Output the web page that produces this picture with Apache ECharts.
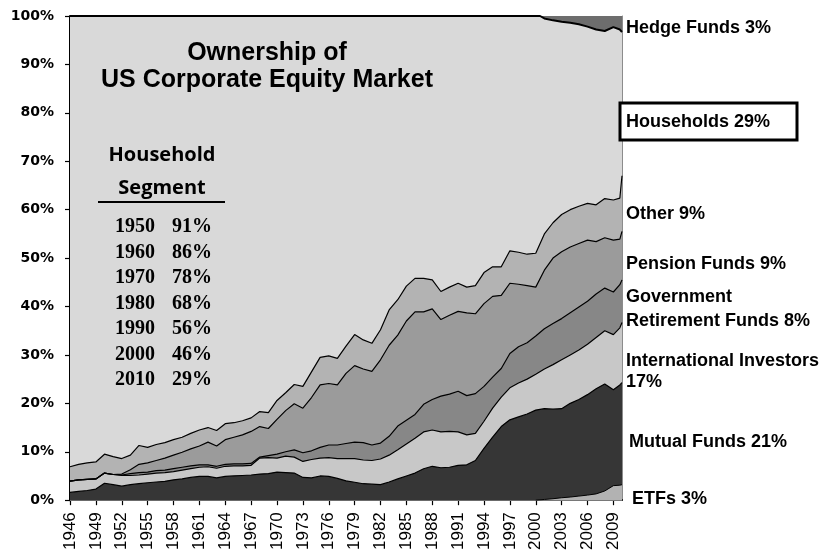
<!DOCTYPE html>
<html>
<head>
<meta charset="utf-8">
<title>Ownership of US Corporate Equity Market</title>
<script src="https://cdn.jsdelivr.net/npm/echarts@6/dist/echarts.min.js"></script>
<style>
  html, body { margin: 0; padding: 0; background: #fff; }
  #chart { width: 835px; height: 553px; }
</style>
</head>
<body>
<div id="chart"></div>
<script>
// shares, cumulative from the bottom (% of the market)
const BASE_YEAR = 1946;
const years = [
  1946, 1947, 1948, 1949, 1950, 1951, 1952, 1953, 1954, 1955,
  1956, 1957, 1958, 1959, 1960, 1961, 1962, 1963, 1964, 1965,
  1966, 1967, 1968, 1969, 1970, 1971, 1972, 1973, 1974, 1975,
  1976, 1977, 1978, 1979, 1980, 1981, 1982, 1983, 1984, 1985,
  1986, 1987, 1988, 1989, 1990, 1991, 1992, 1993, 1994, 1995,
  1996, 1997, 1998, 1999, 2000, 2001, 2002, 2003, 2004, 2005,
  2006, 2007, 2008, 2009, 2009.75, 2010
];
const mutualTop = [
  1.6, 1.8, 2.0, 2.3, 3.5, 3.2, 2.9, 3.2, 3.4, 3.6,
  3.75, 3.9, 4.2, 4.4, 4.7, 4.9, 4.9, 4.6, 4.9, 5.0,
  5.1, 5.2, 5.4, 5.5, 5.8, 5.7, 5.6, 4.7, 4.6, 5.0,
  4.9, 4.5, 4.0, 3.7, 3.4, 3.3, 3.2, 3.75, 4.4, 5.0,
  5.6, 6.5, 7.0, 6.7, 6.8, 7.2, 7.3, 8.2, 10.7, 13.0,
  15.2, 16.6, 17.2, 17.8, 18.6, 18.9, 18.8, 18.9, 20.0, 20.8,
  21.8, 23.0, 24.0, 22.8, 23.8, 24.3
];
const intlTop = [
  3.95, 4.2, 4.3, 4.4, 5.6, 5.3, 5.1, 5.1, 5.2, 5.4,
  5.6, 5.7, 5.9, 6.2, 6.5, 6.8, 6.9, 6.6, 7.0, 7.1,
  7.1, 7.2, 8.7, 8.8, 8.7, 9.1, 8.9, 8.0, 8.4, 8.7,
  8.8, 8.6, 8.6, 8.6, 8.3, 8.2, 8.5, 9.3, 10.4, 11.6,
  12.8, 14.1, 14.5, 14.1, 14.2, 14.1, 13.5, 13.8, 16.3, 19.0,
  21.3, 23.2, 24.2, 25.0, 26.0, 27.1, 28.0, 29.0, 30.0, 31.0,
  32.2, 33.6, 35.0, 34.2, 35.6, 36.7
];
const govTop = [
  3.95, 4.2, 4.3, 4.4, 5.6, 5.3, 5.2, 5.5, 5.7, 5.8,
  6.1, 6.2, 6.5, 6.8, 7.1, 7.3, 7.3, 7.0, 7.4, 7.5,
  7.5, 7.6, 8.9, 9.2, 9.5, 10.0, 10.4, 9.8, 10.2, 10.9,
  11.4, 11.4, 11.7, 12.0, 11.9, 11.4, 11.8, 13.2, 15.3, 16.5,
  17.7, 19.8, 20.8, 21.5, 21.9, 22.5, 21.6, 22.0, 23.5, 25.4,
  27.2, 30.3, 31.7, 32.5, 33.9, 35.4, 36.5, 37.5, 38.7, 39.9,
  41.1, 42.6, 43.8, 43.0, 44.5, 45.5
];
const pensionTop = [
  3.95, 4.2, 4.3, 4.4, 5.6, 5.3, 5.4, 6.3, 7.4, 7.7,
  8.2, 8.7, 9.3, 9.9, 10.6, 11.2, 12.0, 11.2, 12.5, 13.0,
  13.5, 14.2, 15.2, 14.8, 16.7, 18.5, 19.9, 19.0, 21.2, 23.8,
  24.1, 23.8, 26.2, 27.8, 27.1, 26.6, 29.0, 32.0, 34.1, 37.0,
  38.9, 38.9, 39.5, 37.3, 38.2, 39.0, 38.7, 38.5, 40.6, 42.1,
  42.3, 44.8, 44.6, 44.3, 44.0, 47.5, 50.0, 51.3, 52.3, 53.0,
  53.7, 53.4, 54.2, 53.7, 53.9, 55.5
];
const otherTop = [
  6.9, 7.4, 7.7, 7.9, 9.5, 9.0, 8.6, 9.3, 11.3, 10.9,
  11.5, 11.9, 12.5, 13.0, 13.8, 14.5, 15.0, 14.4, 15.8, 16.0,
  16.4, 17.0, 18.3, 18.1, 20.6, 22.2, 23.9, 23.5, 26.5, 29.5,
  29.8, 29.3, 31.8, 34.2, 33.1, 32.4, 35.2, 39.3, 41.4, 44.2,
  45.8, 45.8, 45.5, 43.1, 44.0, 44.8, 44.0, 44.3, 47.0, 48.2,
  48.2, 51.5, 51.2, 50.8, 51.0, 55.0, 57.3, 59.0, 60.0, 60.7,
  61.3, 61.0, 62.3, 62.0, 62.4, 67.0
];
// households run up to 100% until hedge funds appear
const householdYears = [1946, 2000.5, 2001, 2002, 2003, 2004, 2005, 2006, 2007, 2008, 2009, 2009.75, 2010];
const householdTop = [100, 100, 99.5, 99.1, 98.8, 98.6, 98.3, 97.8, 97.2, 96.9, 97.7, 97.2, 96.7];
const hedgeYears = [1946, 2010];
const hedgeTop = [100, 100];
const etfYears = [2000, 2001, 2002, 2003, 2004, 2005, 2006, 2007, 2008, 2009, 2009.75, 2010];
const etfTop = [0, 0.15, 0.3, 0.5, 0.65, 0.85, 1.05, 1.3, 1.9, 3.0, 3.1, 3.2];

// household segment table
const segmentYears = ['1950', '1960', '1970', '1980', '1990', '2000', '2010'];
const segmentShares = ['91%', '86%', '78%', '68%', '56%', '46%', '29%'];

// labels on the right: text lines and vertical centre
const rightLabels = [
  { lines: ['Hedge Funds 3%'], y: [28] },
  { lines: ['Households 29%'], y: [122] },
  { lines: ['Other 9%'], y: [214] },
  { lines: ['Pension Funds 9%'], y: [264] },
  { lines: ['Government', 'Retirement Funds 8%'], y: [297, 321] },
  { lines: ['International Investors', '17%'], y: [361, 382] },
  { lines: ['Mutual Funds 21%'], y: [442], x: 629 },
  { lines: ['ETFs 3%'], y: [499], x: 632 }
];

function pairs(xs, ys) {
  return xs.map((yr, i) => [yr - BASE_YEAR, ys[i]]);
}

function layer(name, xs, ys, fill, lineWidth, extra) {
  return Object.assign({
    name: name,
    type: 'line',
    data: pairs(xs, ys),
    symbol: 'none',
    silent: true,
    lineStyle: { color: '#000', width: lineWidth },
    areaStyle: { color: fill, opacity: 1 }
  }, extra || {});
}

const series = [
  layer('Hedge Funds', hedgeYears, hedgeTop, '#6d6d6d', 0),
  layer('Households', householdYears, householdTop, '#d9d9d9', 2, { clip: false }),
  layer('Other', years, otherTop, '#b3b3b3', 1.2),
  layer('Pension Funds', years, pensionTop, '#9b9b9b', 1.2),
  layer('Government Retirement Funds', years, govTop, '#878787', 1.2),
  layer('International Investors', years, intlTop, '#c8c8c8', 1.2),
  layer('Mutual Funds', years, mutualTop, '#363636', 1.2),
  layer('ETFs', etfYears, etfTop, '#b2b2b2', 1)
];

const graphic = [
  { type: 'text', z: 100, style: { text: 'Ownership of', x: 267, y: 53, font: 'bold 25px "Liberation Sans", Arial, sans-serif', fill: '#000', textAlign: 'center', align: 'center', textVerticalAlign: 'middle', verticalAlign: 'middle' } },
  { type: 'text', z: 100, style: { text: 'US Corporate Equity Market', x: 267, y: 80, font: 'bold 25px "Liberation Sans", Arial, sans-serif', fill: '#000', textAlign: 'center', align: 'center', textVerticalAlign: 'middle', verticalAlign: 'middle' } },
  { type: 'text', z: 100, style: { text: 'Household', x: 162, y: 155, font: 'bold 20px "Open Sans", sans-serif', fill: '#000', textAlign: 'center', align: 'center', textVerticalAlign: 'middle', verticalAlign: 'middle' } },
  { type: 'text', z: 100, style: { text: 'Segment', x: 162, y: 188, font: 'bold 20px "Open Sans", sans-serif', fill: '#000', textAlign: 'center', align: 'center', textVerticalAlign: 'middle', verticalAlign: 'middle' } },
  { type: 'line', z: 100, shape: { x1: 98, y1: 202, x2: 225, y2: 202 }, style: { stroke: '#000', lineWidth: 2 } },
  { type: 'rect', z: 99, shape: { x: 620, y: 103, width: 177, height: 37 }, style: { fill: '#fff', stroke: '#000', lineWidth: 3 } }
];

segmentYears.forEach((yr, i) => {
  const y = 227 + i * 25.5;
  graphic.push({ type: 'text', z: 100, style: { text: yr, x: 115, y: y, font: 'bold 20px "Liberation Serif", "Times New Roman", serif', fill: '#000', textVerticalAlign: 'middle', verticalAlign: 'middle' } });
  graphic.push({ type: 'text', z: 100, style: { text: segmentShares[i], x: 172, y: y, font: 'bold 20px "Liberation Serif", "Times New Roman", serif', fill: '#000', textVerticalAlign: 'middle', verticalAlign: 'middle' } });
});

rightLabels.forEach(lab => {
  lab.lines.forEach((t, i) => {
    graphic.push({ type: 'text', z: 100, style: { text: t, x: lab.x || 626, y: lab.y[i], font: 'bold 18px "Liberation Sans", Arial, sans-serif', fill: '#000', textVerticalAlign: 'middle', verticalAlign: 'middle' } });
  });
});

const chart = echarts.init(document.getElementById('chart'));
chart.setOption({
  animation: false,
  backgroundColor: '#fff',
  grid: { left: 70, right: 213, top: 16, bottom: 49 },
  xAxis: {
    type: 'value',
    min: 0,
    max: 64,
    interval: 3,
    splitLine: { show: false },
    axisLine: { show: true, lineStyle: { color: '#000', width: 2 } },
    axisTick: { show: true, length: 5, lineStyle: { color: '#000', width: 1.2 } },
    axisLabel: {
      rotate: 90,
      margin: 12,
      showMaxLabel: false,
      color: '#000',
      fontFamily: '"Liberation Sans", Arial, sans-serif',
      fontSize: 17,
      formatter: v => (v % 3 === 0 && v <= 63 ? String(BASE_YEAR + v) : '')
    }
  },
  yAxis: [
    {
      type: 'value',
      min: 0,
      max: 100,
      interval: 10,
      splitLine: { show: false },
      axisLine: { show: true, lineStyle: { color: '#000', width: 2 } },
      axisTick: { show: true, length: 5, lineStyle: { color: '#000', width: 1.2 } },
      axisLabel: {
        margin: 16,
        color: '#000',
        fontFamily: 'DejaVu Sans',
        fontWeight: 'bold',
        fontSize: 14,
        formatter: '{value}%'
      }
    },
    {
      type: 'value',
      position: 'right',
      min: 0,
      max: 100,
      splitLine: { show: false },
      axisLine: { show: true, lineStyle: { color: '#8c8c8c', width: 1 } },
      axisTick: { show: false },
      axisLabel: { show: false }
    }
  ],
  series: series,
  graphic: graphic
});
</script>
</body>
</html>
